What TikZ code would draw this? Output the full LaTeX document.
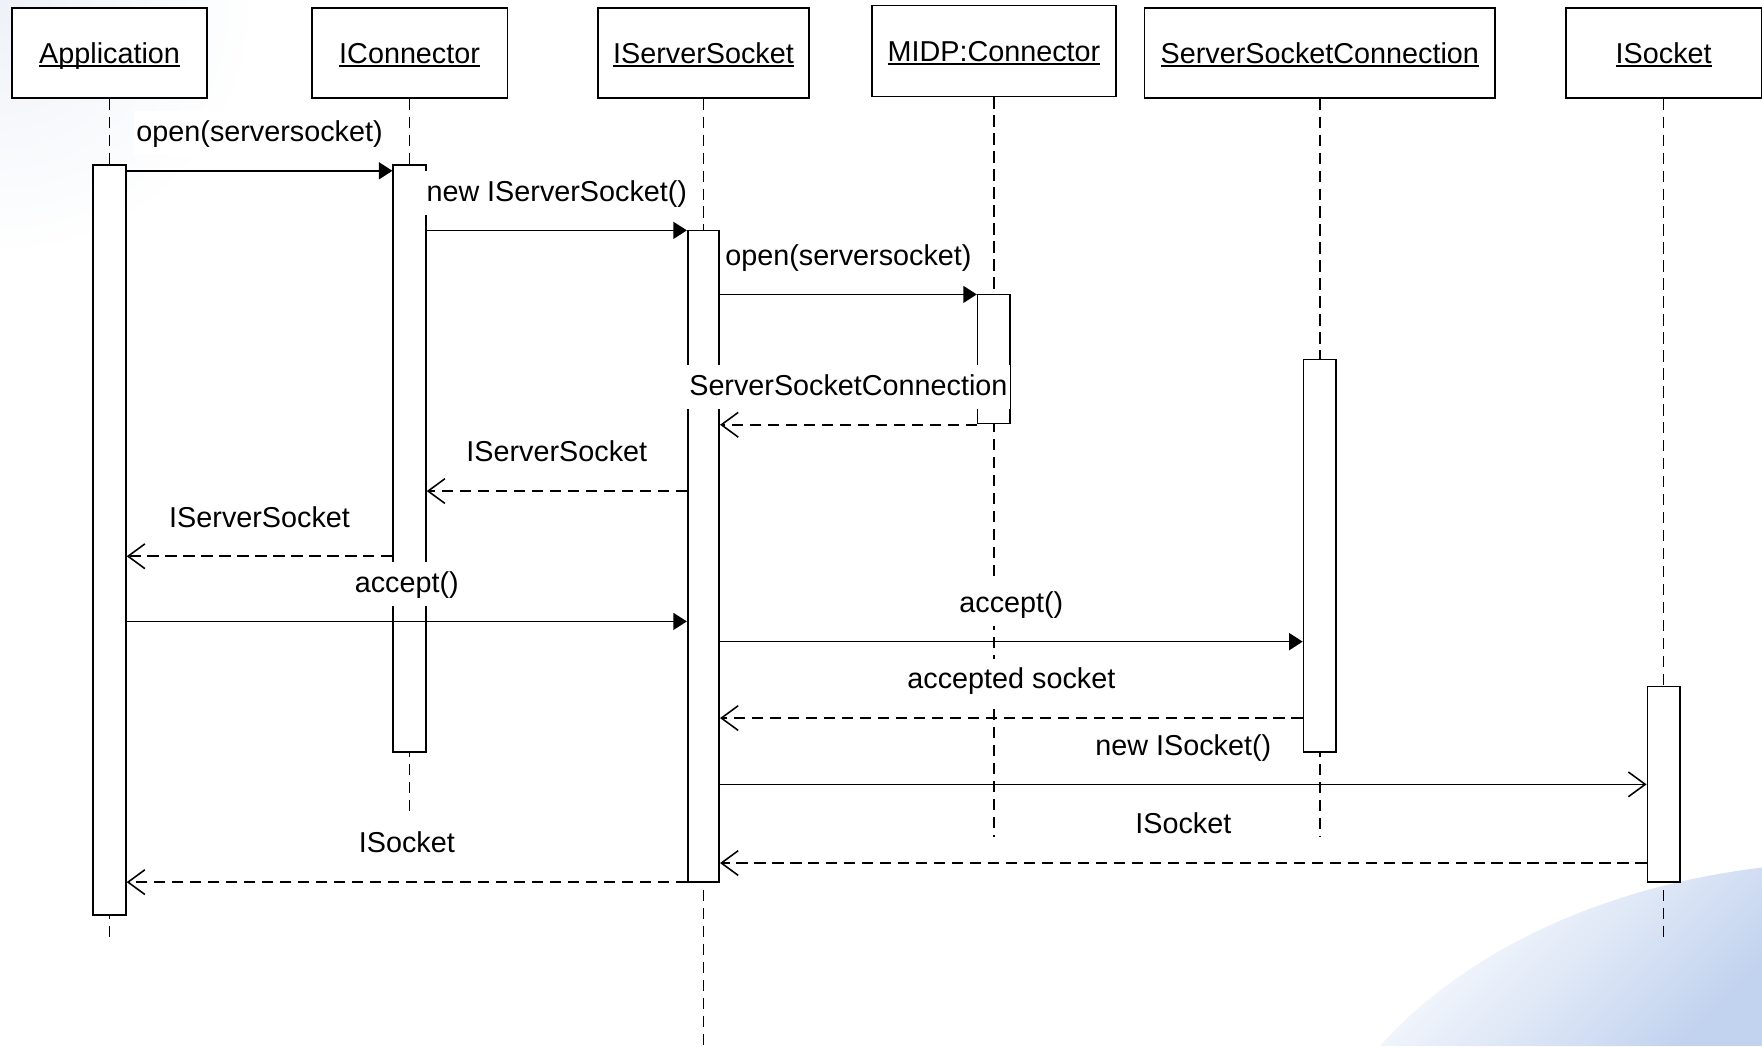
\documentclass[tikz,border=0pt]{standalone}
\usepackage{fontspec}
\setmainfont{Liberation Sans}
\usetikzlibrary{arrows.meta}

% underlined object name, with the rule crossing the descenders
\newcommand\ulname[1]{\setbox0=\hbox{#1}\rlap{\rule[-1.5pt]{\wd0}{0.7pt}}\box0}

\definecolor{swoosh}{RGB}{194,211,239}
\definecolor{haze}{RGB}{238,242,248}

\tikzset{
  objbox/.style={draw, fill=white, line width=0.75pt, minimum height=40pt,
    text height=11.7pt, text depth=2.5pt, inner sep=0pt},
  actbar/.style={draw, fill=white, line width=0.75pt, minimum width=14.5pt, inner sep=0pt},
  life/.style={line width=0.65pt, dash pattern=on 5pt off 3pt},
  call/.style={line width=0.75pt, -{Triangle[length=6pt,width=7.5pt]}},
  ret/.style={line width=0.75pt, dash pattern=on 5pt off 3pt,
    -{Straight Barb[length=7.5pt,width=11pt,line width=0.7pt]}},
  create/.style={line width=0.75pt, -{Straight Barb[length=7.5pt,width=11pt,line width=0.7pt]}},
  msg/.style={fill=white, anchor=base, yshift=13pt, text height=9.5pt,
    text depth=2pt, inner xsep=1pt, inner ysep=4pt},
}

\begin{document}
\begin{tikzpicture}[x=0.5pt, y=-0.5pt, font=\fontsize{12.8pt}{15pt}\selectfont]
\useasboundingbox (0,0) rectangle (1568,931);
\fill[white] (0,0) rectangle (1568,931);

% soft background decoration
\shade[inner color=haze, outer color=white] (0,0) circle[radius=230];
\shade[top color=white, bottom color=swoosh, shading angle=45]
  (1228,931) .. controls (1300,850) and (1420,790) .. (1568,772) -- (1568,931) -- cycle;

% object heads
\node[objbox, minimum width=87pt]   (hA) at (97.5,47)   {\ulname{Application}};
\node[objbox, minimum width=87pt]   (hC) at (364.5,47)  {\ulname{IConnector}};
\node[objbox, minimum width=94pt]   (hS) at (626,47)    {\ulname{IServerSocket}};
\node[objbox, minimum width=108.5pt, minimum height=40.5pt] (hM) at (884.5,45.5) {\ulname{MIDP:Connector}};
\node[objbox, minimum width=156pt]  (hN) at (1174.5,47) {\ulname{ServerSocketConnection}};
\node[objbox, minimum width=87pt]   (hK) at (1480.5,47) {\ulname{ISocket}};

% lifeline ends
\coordinate (eA) at (97.5,838);
\coordinate (eC) at (364.5,727);
\coordinate (eS) at (626,931);
\coordinate (eM) at (884.5,745);
\coordinate (eN) at (1174.5,745);
\coordinate (eK) at (1480.5,838);

% lifelines
\draw[life] (hA.south) -- (eA);
\draw[life] (hC.south) -- (eC);
\draw[life] (hS.south) -- (eS);
\draw[life] (hM.south) -- (eM);
\draw[life] (hN.south) -- (eN);
\draw[life] (hK.south) -- (eK);

% activation bars
\node[actbar, minimum height=333.5pt] (bA) at (97.5,480.5)  {};
\node[actbar, minimum height=261pt]   (bC) at (364.5,408)   {};
\node[actbar, minimum width=14pt, minimum height=290pt] (bS) at (626,495) {};
\node[actbar, minimum height=57.5pt]  (bM) at (884.5,319.5) {};
\node[actbar, minimum height=174.5pt] (bN) at (1174.5,494.5) {};
\node[actbar, minimum height=87pt]    (bK) at (1480.5,698)  {};

% messages
\draw[call] (bA.east |- 0,152) -- node[msg] {open(serversocket)} (bC.west |- 0,152);
\draw[call] (bC.east |- 0,205) -- node[msg] {new IServerSocket()} (bS.west |- 0,205);
\draw[call] (bS.east |- 0,262) -- node[msg] {open(serversocket)} (bM.west |- 0,262);
\draw[ret]  (bM.west |- 0,378) -- node[msg] {ServerSocketConnection} (bS.east |- 0,378);
\draw[ret]  (bS.west |- 0,437) -- node[msg] {IServerSocket} (bC.east |- 0,437);
\draw[ret]  (bC.west |- 0,495) -- node[msg] {IServerSocket} (bA.east |- 0,495);
\draw[call] (bA.east |- 0,553) -- node[msg] {accept()} (bS.west |- 0,553);
\draw[call] (bS.east |- 0,571) -- node[msg] {accept()} (bN.west |- 0,571);
\draw[ret]  (bN.west |- 0,639) -- node[msg] {accepted socket} (bS.east |- 0,639);
\draw[create] (bS.east |- 0,698) -- node[msg] {new ISocket()} (bK.west |- 0,698);
\draw[ret]  (bK.west |- 0,768) -- node[msg] {ISocket} (bS.east |- 0,768);
\draw[ret]  (bS.west |- 0,785) -- node[msg] {ISocket} (bA.east |- 0,785);
\end{tikzpicture}
\end{document}
